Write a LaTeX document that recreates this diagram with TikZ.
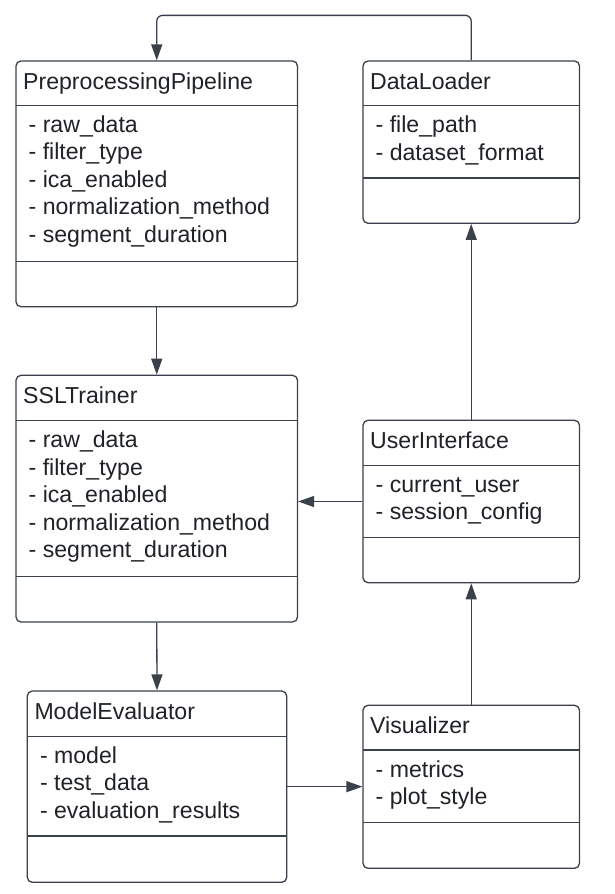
\documentclass[tikz,border=0pt]{standalone}
\usepackage{fontspec}
\setmainfont{Liberation Sans}
\usetikzlibrary{arrows.meta}
\definecolor{linec}{HTML}{3A414A}
\definecolor{textc}{HTML}{1F2226}
\tikzset{
  classbox/.style={draw=linec, line width=1.3pt, rounded corners=5pt, inner sep=0pt, fill=white},
  sepline/.style={draw=linec, line width=1.3pt},
  titletext/.style={anchor=base west, inner sep=0pt, text=textc, font=\fontsize{23.1}{27}\selectfont},
  attrtext/.style={anchor=base west, inner sep=0pt, text=textc, font=\fontsize{23.1}{27}\selectfont},
  conn/.style={draw=linec, line width=1.3pt, -{Triangle[length=16pt,width=11pt]}, rounded corners=6pt},
}
% #1 name, #2 left, #3 top, #4 right, #5 bottom, #6 sep1, #7 sep2, #8 title, #9 attribute list
\newcommand\umlclass[9]{%
  \node[classbox, minimum width={(#4-#2)*1pt}, minimum height={(#5-#3)*1pt}] (#1) at ({(#2+#4)/2},{(#3+#5)/2}) {};
  \draw[sepline] (#2,#6) -- (#4,#6);
  \draw[sepline] (#2,#7) -- (#4,#7);
  \node[titletext] (#1-title) at ({#2+7},{#3+28.3}) {#8};
  \foreach \a [count=\i from 0] in {#9} {
    \node[attrtext] (#1-a\i) at ({#2+12.5},{#6+27+27.5*\i}) {\a};
  }
}
\begin{document}
\begin{tikzpicture}[x=1pt,y=-1pt]
\useasboundingbox[fill=white] (0,0) rectangle (614,894);

\umlclass{pp}{16}{61}{297.5}{306.7}{105.3}{261.3}{PreprocessingPipeline}%
  {- raw\_data, - filter\_type, - ica\_enabled, - normalization\_method, - segment\_duration}
\umlclass{dl}{363}{61}{579.5}{223.3}{105.5}{178}{DataLoader}%
  {- file\_path, - dataset\_format}
\umlclass{ssl}{16}{375.3}{297.5}{622}{420.7}{576.7}{SSLTrainer}%
  {- raw\_data, - filter\_type, - ica\_enabled, - normalization\_method, - segment\_duration}
\umlclass{ui}{363}{420.3}{579.5}{582.7}{465.3}{537.7}{UserInterface}%
  {- current\_user, - session\_config}
\umlclass{me}{27.3}{691}{286.7}{882.3}{736.3}{836}{ModelEvaluator}%
  {- model, - test\_data, - evaluation\_results}
\umlclass{vis}{363}{705.3}{579.5}{868.3}{750}{822.3}{Visualizer}%
  {- metrics, - plot\_style}

\draw[conn] (dl.north) -- ++(0,-45) -| (pp.north);
\draw[conn] (ui.north) -- (dl.south);
\draw[conn] (pp.south) -- (ssl.north);
\draw[conn] (ui.west) -- (ui.west -| ssl.east);
\draw[conn] (ssl.south) -- (me.north);
\draw[conn] (vis.north) -- (ui.south);
\draw[conn] (me.east) -- (me.east -| vis.west);
\end{tikzpicture}
\end{document}
